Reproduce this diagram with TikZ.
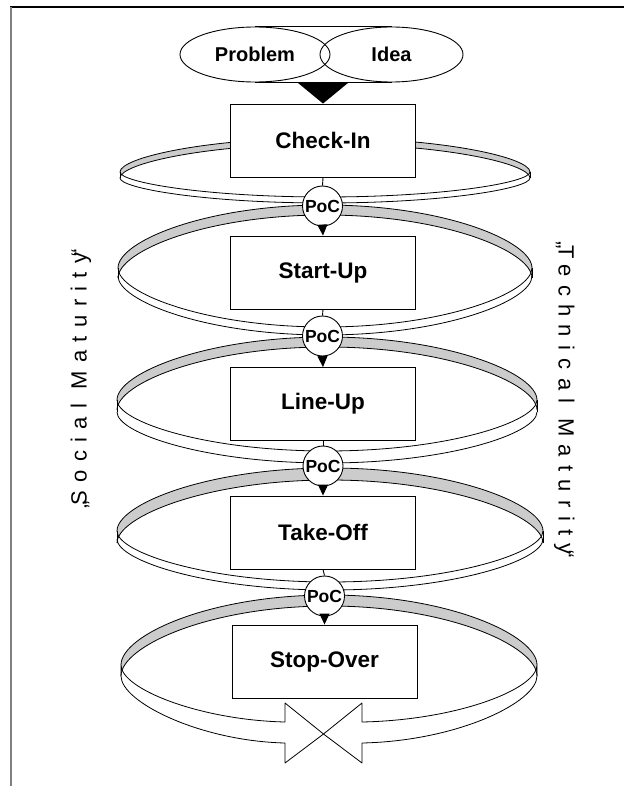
\documentclass[tikz,border=0pt]{standalone}
\usepackage{fontspec}
\setmainfont{Liberation Sans}
\usetikzlibrary{arrows.meta,shapes.geometric}
\definecolor{bandgray}{RGB}{204,204,204}
\definecolor{framegray}{RGB}{128,128,128}
% half ring curve, left to right: cx, base y, a, signed b (negative = upwards)
\newcommand{\arcpath}[4]{({#1-#3},{#2}) .. controls ({#1-#3},{#2+0.42*(#4)}) and ({#1-0.58*#3},{#2+(#4)}) .. ({#1},{#2+(#4)}) .. controls ({#1+0.58*#3},{#2+(#4)}) and ({#1+#3},{#2+0.42*(#4)}) .. ({#1+#3},{#2})}
% same, right to left
\newcommand{\arcpathrev}[4]{({#1+#3},{#2}) .. controls ({#1+#3},{#2+0.42*(#4)}) and ({#1+0.58*#3},{#2+(#4)}) .. ({#1},{#2+(#4)}) .. controls ({#1-0.58*#3},{#2+(#4)}) and ({#1-#3},{#2+0.42*(#4)}) .. ({#1-#3},{#2})}
% grey back half: cx, cy, a, b, thickness
\newcommand{\ringback}[5]{%
  \fill[bandgray] \arcpath{#1}{#2}{#3}{-#4} -- \arcpathrev{#1}{#2+#5}{#3}{-#4} -- cycle;}
\newcommand{\ringbackedges}[5]{%
  \draw[bandline] \arcpath{#1}{#2}{#3}{-#4};
  \draw[bandline] \arcpath{#1}{#2+#5}{#3}{-#4};}
% white front half: cx, cy, a, b, thickness, height of outer side edge
\newcommand{\ringfront}[6]{%
  \fill[white] \arcpath{#1}{#2}{#3}{#4} -- \arcpathrev{#1}{#2+#5}{#3}{#4} -- cycle;
  \draw[bandline] \arcpath{#1}{#2}{#3}{#4};
  \draw[bandline] \arcpath{#1}{#2+#5}{#3}{#4};
  \draw[bandline] ({#1-#3},{#2}) -- ({#1-#3},{#2+#6});
  \draw[bandline] ({#1+#3},{#2}) -- ({#1+#3},{#2+#6});}
\begin{document}
\begin{tikzpicture}[x=1pt,y=-1pt,
  bandline/.style={draw=black,line width=0.8pt,line join=round},
  bandfront/.style={fill=white,draw=black,line width=0.8pt,line join=round},
  stagebox/.style={draw,line width=0.9pt,fill=white,minimum width=185pt,minimum height=73pt,inner sep=0pt,font=\bfseries\fontsize{22.5}{27}\selectfont},
  pocnode/.style={circle,draw,fill=white,line width=0.9pt,minimum size=40pt,inner sep=0pt,font=\bfseries\fontsize{17.5}{20}\selectfont},
  seed/.style={ellipse,draw,line width=0.9pt,minimum height=55pt,inner sep=0pt,font=\bfseries\fontsize{20}{24}\selectfont},
  flow/.style={line width=0.9pt},
  flowarrow/.style={line width=0.9pt,-{Triangle[length=11pt,width=10pt]}},
  maturity/.style={font=\fontsize{22}{26}\selectfont\addfontfeature{LetterSpace=38},anchor=base}
]
\useasboundingbox (0,0) rectangle (624,786);
% frame
\draw[line width=1.3pt] (10,7) -- (624,7);
\draw[framegray,line width=1.6pt] (11,7) -- (11,786);

% ring 1
\ringback{325}{172}{205}{34}{6}
\ringfront{325}{172}{205}{25}{6}{6}
\ringbackedges{325}{172}{205}{34}{6}
% ring 2
\ringback{325}{268}{207}{63}{10}
\ringfront{325}{268}{207}{59}{8}{10}
\ringbackedges{325}{268}{207}{63}{10}
% ring 3
\ringback{327}{400}{210}{63}{10}
\ringfront{327}{400}{210}{51}{12}{12}
\ringbackedges{327}{400}{210}{63}{10}
% ring 4
\ringback{330}{531}{213}{63}{12}
\ringfront{330}{531}{213}{51}{8}{12}
\ringbackedges{330}{531}{213}{63}{12}
% ring 5: front half ends in two converging arrows
\ringback{329}{665}{208}{70}{11}
\filldraw[bandfront] (121,665) .. controls (121,689) and (200,720) .. (285,722)
  -- (285,703) -- (323.5,734) -- (285,763) -- (285,743)
  .. controls (200,741) and (121,702) .. (121,676) -- cycle;
\filldraw[bandfront] (537,665) .. controls (537,689) and (458,720) .. (362,722)
  -- (362,703) -- (323.5,734) -- (362,763) -- (362,743)
  .. controls (458,741) and (537,702) .. (537,676) -- cycle;
\ringbackedges{329}{665}{208}{70}{11}

% start ellipses
\node[seed,minimum width=150pt] (prob) at (255,54.5) {Problem};
\node[seed,minimum width=143pt] (idea) at (391.5,54.5) {Idea};
\draw[flow] (prob.north) -- (idea.north);
\draw[flow] (prob.south) -- (idea.south);

% stages
\node[stagebox] (cin) at (323,140.5) {Check-In};
\node[stagebox] (sup) at (323,272.5) {Start-Up};
\node[stagebox] (lup) at (323,404) {Line-Up};
\node[stagebox] (tof) at (323,532.5) {Take-Off};
\node[stagebox] (sov) at (324.5,661.5) {Stop-Over};

\fill (cin.north) -- ++(-25.5,-21) -- ++(51,0) -- cycle;

% proofs of concept
\node[pocnode] (p1) at (322.5,206) {PoC};
\node[pocnode] (p2) at (322.5,336) {PoC};
\node[pocnode] (p3) at (323,466) {PoC};
\node[pocnode] (p4) at (324.5,596) {PoC};

\draw[flow] (cin.south) -- (p1.north);
\draw[flowarrow] (p1.south) -- (sup.north);
\draw[flow] (sup.south) -- (p2.north);
\draw[flowarrow] (p2.south) -- (lup.north);
\draw[flow] (lup.south) -- (p3.north);
\draw[flowarrow] (p3.south) -- (tof.north);
\draw[flow] (tof.south) -- (p4.north);
\draw[flowarrow] (p4.south) -- (sov.north);

% side labels
\node[maturity,rotate=90] (soc) at (86.5,379) {„\kern-4pt Social Maturity\kern-4pt“};
\node[maturity,rotate=-90] (tec) at (558.5,400) {„\kern-4pt Technical Maturity\kern-4pt“};
\end{tikzpicture}
\end{document}
